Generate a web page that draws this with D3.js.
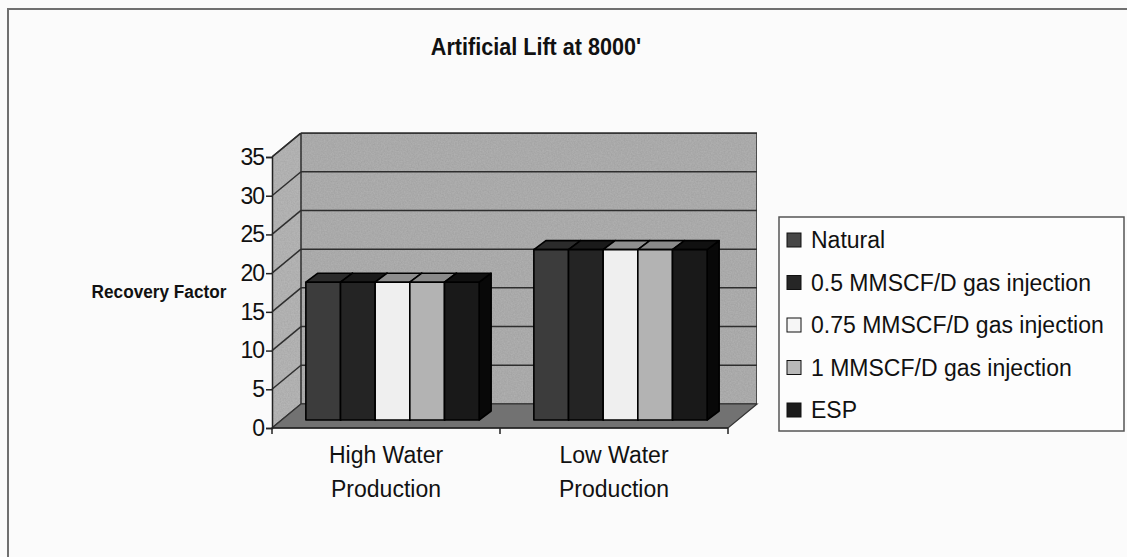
<!DOCTYPE html>
<html>
<head>
<meta charset="utf-8">
<script src="https://cdn.jsdelivr.net/npm/d3@7"></script>
<style>
  html, body { margin: 0; padding: 0; background: #fbfbfb; }
  svg { display: block; font-family: "Liberation Sans", Arial, sans-serif; }
</style>
</head>
<body>
<div id="chart"></div>
<script>
// Chart data
const categories = ['High Water Production', 'Low Water Production'];
const categoryLines = [['High Water', 'Production'], ['Low Water', 'Production']];
const seriesNames = ['Natural', '0.5 MMSCF/D gas injection', '0.75 MMSCF/D gas injection',
  '1 MMSCF/D gas injection', 'ESP'];
const natural = [17.8, 22];
const gas05 = [17.8, 22];
const gas075 = [17.8, 22];
const gas1 = [17.8, 22];
const esp = [17.8, 22];
const yTicks = [0, 5, 10, 15, 20, 25, 30, 35];

const seriesValues = [natural, gas05, gas075, gas1, esp];

// front / top / side shades per series (grayscale print)
const frontColors = ['#3c3c3c', '#242424', '#efefef', '#b3b3b3', '#191919'];
const topColors = ['#2b2b2b', '#1a1a1a', '#8e8e8e', '#8a8a8a', '#101010'];
const sideColors = ['#222', '#141414', '#9a9a9a', '#7c7c7c', '#080808'];
const legendColors = ['#474747', '#262626', '#f6f6f6', '#b9b9b9', '#1c1c1c'];

const Chart = (function (my) {
  my.width = 1127;
  my.height = 557;
  // oblique depth of the plot box
  my.depth = { dx: 29, dy: -24 };
  // where the bars sit inside that depth
  my.barFront = { dx: 6.5, dy: -8 };
  my.barDepth = { dx: 12, dy: -9 };

  my.svg = d3.select('#chart').append('svg')
    .attr('width', my.width)
    .attr('height', my.height);

  my.x = d3.scaleBand().domain(categories).range([272, 728])
    .paddingInner(0.24).paddingOuter(0.12);
  my.xs = d3.scaleBand().domain(d3.range(seriesNames.length))
    .range([0, my.x.bandwidth()]);
  my.y = d3.scaleLinear().domain([0, 35]).range([428, 157]);

  const poly = function (pts) {
    return 'M' + pts.map(function (p) { return p.join(','); }).join('L') + 'Z';
  };

  my.draw = function () {
    const svg = my.svg;
    const dx = my.depth.dx, dy = my.depth.dy;
    const x0 = my.x.range()[0], x1 = my.x.range()[1];
    const y0 = my.y(0), yTop = my.y(35);

    // grainy texture for the walls
    const defs = svg.append('defs');
    const f = defs.append('filter').attr('id', 'grain')
      .attr('x', 0).attr('y', 0).attr('width', 1).attr('height', 1);
    f.append('feTurbulence').attr('type', 'fractalNoise')
      .attr('baseFrequency', 0.7).attr('numOctaves', 2).attr('seed', 3).attr('result', 'n');
    f.append('feColorMatrix').attr('in', 'n').attr('type', 'matrix')
      .attr('values', '0 0 0 0 0  0 0 0 0 0  0 0 0 0 0  0 0 0 0.22 0').attr('result', 'a');
    f.append('feComposite').attr('in', 'a').attr('in2', 'SourceGraphic')
      .attr('operator', 'in').attr('result', 'c');
    const m = f.append('feMerge');
    m.append('feMergeNode').attr('in', 'SourceGraphic');
    m.append('feMergeNode').attr('in', 'c');

    // outer chart border
    svg.append('rect')
      .attr('x', 8).attr('y', 9)
      .attr('width', my.width).attr('height', my.height)
      .attr('fill', 'none').attr('stroke', '#707070').attr('stroke-width', 2);

    // title
    svg.append('text')
      .attr('transform', 'translate(536,55) scale(0.9,1)')
      .attr('text-anchor', 'middle')
      .style('font-size', '24px').style('font-weight', 'bold')
      .style('fill', '#111')
      .text("Artificial Lift at 8000'");

    // walls and floor
    svg.append('path')
      .attr('d', poly([[x0 + dx, y0 + dy], [x1 + dx, y0 + dy], [x1 + dx, yTop + dy], [x0 + dx, yTop + dy]]))
      .attr('fill', '#b3b3b3').attr('filter', 'url(#grain)')
      .attr('stroke', '#333').attr('stroke-width', 1.5);
    svg.append('path')
      .attr('d', poly([[x0, y0], [x0 + dx, y0 + dy], [x0 + dx, yTop + dy], [x0, yTop]]))
      .attr('fill', '#bababa').attr('filter', 'url(#grain)')
      .attr('stroke', '#333').attr('stroke-width', 1.5);
    svg.append('path')
      .attr('d', poly([[x0, y0], [x1, y0], [x1 + dx, y0 + dy], [x0 + dx, y0 + dy]]))
      .attr('fill', '#727272')
      .attr('stroke', '#333').attr('stroke-width', 1.2);

    // gridlines on back wall and side wall
    const grid = svg.append('g').attr('stroke', '#2e2e2e').attr('stroke-width', 1.5);
    grid.selectAll('line.back').data(yTicks.slice(1)).enter().append('line')
      .attr('x1', x0 + dx).attr('x2', x1 + dx)
      .attr('y1', function (d) { return my.y(d) + dy; })
      .attr('y2', function (d) { return my.y(d) + dy; });
    grid.selectAll('line.side').data(yTicks.slice(1)).enter().append('line')
      .attr('x1', x0).attr('x2', x0 + dx)
      .attr('y1', function (d) { return my.y(d); })
      .attr('y2', function (d) { return my.y(d) + dy; });

    // bars, drawn left to right so each front face hides the previous side
    const bf = my.barFront, bd = my.barDepth;
    const bars = [];
    categories.forEach(function (c, ci) {
      seriesValues.forEach(function (vals, si) {
        bars.push({ c: c, s: si, v: vals[ci] });
      });
    });
    const bw = my.xs.bandwidth();
    const g = svg.append('g').attr('stroke', '#000').attr('stroke-width', 1.6)
      .attr('stroke-linejoin', 'round');
    bars.forEach(function (b) {
      const left = my.x(b.c) + my.xs(b.s) + bf.dx;
      const right = left + bw;
      const bot = my.y(0) + bf.dy;
      const top = my.y(b.v) + bf.dy;
      g.append('path')
        .attr('d', poly([[right, bot], [right + bd.dx, bot + bd.dy], [right + bd.dx, top + bd.dy], [right, top]]))
        .attr('fill', sideColors[b.s]);
      g.append('path')
        .attr('d', poly([[left, top], [right, top], [right + bd.dx, top + bd.dy], [left + bd.dx, top + bd.dy]]))
        .attr('fill', topColors[b.s]);
      g.append('path')
        .attr('d', poly([[left, bot], [right, bot], [right, top], [left, top]]))
        .attr('fill', frontColors[b.s]);
    });

    // y axis
    const yAxis = d3.axisLeft(my.y).tickValues(yTicks).tickSize(6).tickPadding(2);
    const ya = svg.append('g').attr('transform', 'translate(' + x0 + ',0)').call(yAxis);
    ya.select('.domain').attr('stroke', '#222').attr('stroke-width', 1.5);
    ya.selectAll('.tick line').attr('stroke', '#222').attr('stroke-width', 1.5);
    ya.selectAll('.tick text')
      .style('font-size', '23px').style('fill', '#111')
      .attr('font-family', null).attr('letter-spacing', '-1');

    // x axis along the floor's front edge
    const xa = svg.append('g');
    xa.append('line')
      .attr('x1', x0).attr('x2', x1).attr('y1', y0).attr('y2', y0)
      .attr('stroke', '#222').attr('stroke-width', 1.5);
    const xTickPos = [x0].concat(categories.map(function (c) {
      return my.x(c) + my.x.bandwidth() + my.x.step() * my.x.paddingInner() / 2;
    }));
    xa.selectAll('line.t').data(xTickPos).enter().append('line')
      .attr('x1', function (d) { return d; }).attr('x2', function (d) { return d; })
      .attr('y1', y0).attr('y2', y0 + 6)
      .attr('stroke', '#222').attr('stroke-width', 1.5);
    const lbl = xa.selectAll('text').data(categories).enter().append('text')
      .attr('text-anchor', 'middle')
      .attr('transform', function (d) {
        return 'translate(' + (my.x(d) + my.x.bandwidth() / 2) + ',463)';
      })
      .style('font-size', '23px').style('fill', '#111');
    lbl.selectAll('tspan').data(function (d, i) { return categoryLines[i]; }).enter()
      .append('tspan')
      .attr('x', 0)
      .attr('y', function (d, i) { return i * 34; })
      .text(function (d) { return d; });

    // y axis title
    svg.append('text')
      .attr('transform', 'translate(159,298) scale(0.93,1)')
      .attr('text-anchor', 'middle')
      .style('font-size', '18.5px').style('font-weight', 'bold').style('fill', '#111')
      .text('Recovery Factor');

    // legend
    const lg = svg.append('g');
    lg.append('rect')
      .attr('x', 779).attr('y', 217).attr('width', 345).attr('height', 214)
      .attr('fill', '#fdfdfd').attr('stroke', '#555').attr('stroke-width', 1.5);
    const item = lg.selectAll('g.item').data(seriesNames).enter().append('g')
      .attr('transform', function (d, i) { return 'translate(787,' + (240 + i * 42.5) + ')'; });
    item.append('rect')
      .attr('x', 0).attr('y', -7).attr('width', 14).attr('height', 14)
      .attr('fill', function (d, i) { return legendColors[i]; })
      .attr('stroke', '#111').attr('stroke-width', 1);
    item.append('text')
      .attr('x', 24).attr('y', 8)
      .style('font-size', '23px').style('fill', '#111')
      .text(function (d) { return d; });
  };

  return my;
})({});

Chart.draw();
</script>
</body>
</html>
